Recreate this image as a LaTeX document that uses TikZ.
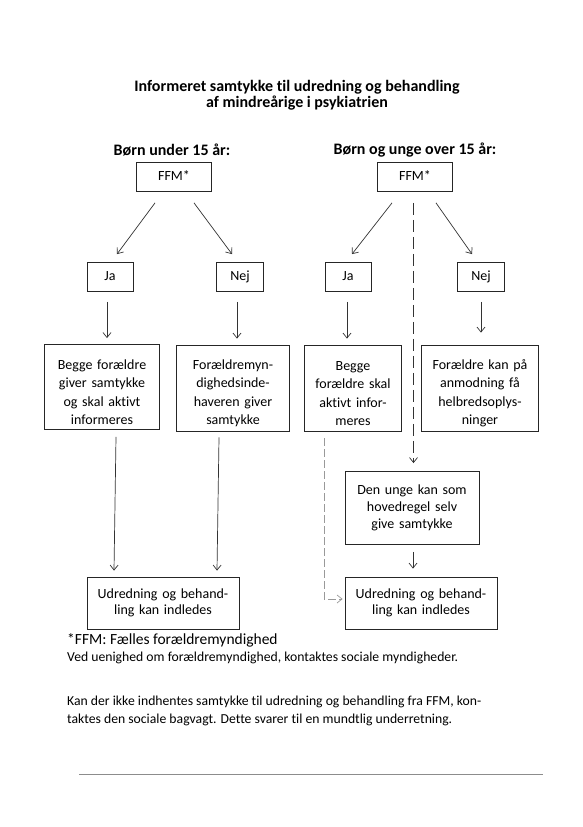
\documentclass[tikz,border=0pt]{standalone}
\usepackage{fontspec}
\setmainfont{Carlito}[Ligatures=NoCommon]
\usetikzlibrary{arrows.meta,calc}
\begin{document}
\begin{tikzpicture}[x=1pt,y=-1pt,
  box/.style={draw=black!85,line width=0.8pt,align=center,inner sep=2pt,
    font=\fontsize{14}{18.5}\selectfont},
  smallbox/.style={box,minimum height=29pt,text height=9.5pt,text depth=3pt},
  lower/.style={execute at begin node={\rule{0pt}{20pt}}},
  arr/.style={draw=black!80,line width=0.7pt,-{Straight Barb[length=5pt,width=8pt]}},
  dashline/.style={arr,dash pattern=on 12pt off 5pt},
  grayline/.style={draw=black!40,line width=0.7pt,dash pattern=on 8pt off 3pt,-{Straight Barb[length=5pt,width=8pt]}},
  heading/.style={font=\bfseries\fontsize{16}{16.5}\selectfont,align=center},
  note/.style={anchor=west,inner sep=0pt,font=\fontsize{13.7}{15}\selectfont}]
\useasboundingbox (0,0) rectangle (583,827);
\fill[white] (0,0) rectangle (583,827);

\node[heading] (title) at (297,95) {Informeret samtykke til udredning og behandling\\af mindreårige i psykiatrien};
\node[heading] (h1) at (172,150) {Børn under 15 år:};
\node[heading] (h2) at (415,150) {Børn og unge over 15 år:};

\node[smallbox,minimum width=75pt] (ffmL) at (174,177) {FFM*};
\node[smallbox,minimum width=75pt] (ffmR) at (415,177) {FFM*};

\node[smallbox,minimum width=46pt] (jaL) at (110,277) {Ja};
\node[smallbox,minimum width=47pt] (nejL) at (240,277) {Nej};
\node[smallbox,minimum width=46pt] (jaR) at (348,277) {Ja};
\node[smallbox,minimum width=47pt] (nejR) at (481,277) {Nej};

\node[box,lower,minimum width=115pt,minimum height=85pt,text width=110pt] (b1) at (102,387) {Begge forældre\\giver samtykke\\og skal aktivt\\informeres};
\node[box,lower,minimum width=113pt,minimum height=86pt,text width=108pt] (b2) at (233,388) {Forældremyn-\\dighedsinde-\\haveren giver\\samtykke};
\node[box,lower,minimum width=97pt,minimum height=86pt,text width=92pt] (b3) at (353,388) {Begge\\forældre skal\\aktivt infor-\\meres};
\node[box,lower,minimum width=117pt,minimum height=86pt,text width=112pt] (b4) at (480,388) {Forældre kan på\\anmodning få\\helbredsoplys-\\ninger};

\node[box,minimum width=134pt,minimum height=73pt,text width=129pt,font=\fontsize{14}{17}\selectfont] (den) at (412,508) {Den unge kan som\\hovedregel selv\\give samtykke};

\node[box,minimum width=152pt,minimum height=52pt,text width=147pt,font=\fontsize{14}{16.5}\selectfont] (udL) at (163,603) {Udredning og behand-\\ling kan indledes};
\node[box,minimum width=152pt,minimum height=52pt,text width=147pt,font=\fontsize{14}{16.5}\selectfont] (udR) at (421,603) {Udredning og behand-\\ling kan indledes};

% arrows from FFM
\draw[arr] ($(ffmL.south)+(-19,11)$) -- ($(jaL.north)+(7,-8)$);
\draw[arr] ($(ffmL.south)+(20,11)$) -- ($(nejL.north)+(-8,-8)$);
\draw[arr] ($(ffmR.south)+(-23,11)$) -- ($(jaR.north)+(4,-8)$);
\draw[arr] ($(ffmR.south)+(21,11)$) -- ($(nejR.north)+(-9,-8)$);
\draw[dashline] ($(den.north |- ffmR.south)+(1.5,11)$) -- ($(den.north)+(1.5,-8)$);

% down arrows
\draw[arr] ($(jaL.south)+(-3,10)$) -- ($(b1.north)+(5,-6)$);
\draw[arr] ($(nejL.south)+(-3,10)$) -- ($(b2.north)+(4,-6)$);
\draw[arr] ($(jaR.south)+(-1,10)$) -- ($(b3.north)+(-6,-6)$);
\draw[arr] ($(nejR.south)+(0,10)$) -- ($(b4.north)+(1,-12)$);

% long arrows
\draw[arr] ($(b1.south)+(14,7)$) -- ($(udL.north)+(-49,-6)$);
\draw[arr] ($(b2.south)+(-14,6)$) -- ($(udL.north)+(54,-6)$);
\draw[arr] ($(den.south)+(1,7)$) -- ($(udR.north)+(-8,-8)$);
\draw[grayline] ($(b3.south)+(-29,7)$) |- ($(udR.west)+(-2,-4)$);

% notes
\node[note,font=\fontsize{15.5}{16}\selectfont] (n1) at (67,640) {*FFM: Fælles forældremyndighed};
\node[note] (n2) at (67,658) {Ved uenighed om forældremyndighed, kontaktes sociale myndigheder.};
\node[note] (n3) at (67,702) {Kan der ikke indhentes samtykke til udredning og behandling fra FFM, kon-};
\node[note] (n4) at (67,720) {taktes den sociale bagvagt. Dette svarer til en mundtlig underretning.};

\coordinate (r1) at (79,774);
\coordinate (r2) at (543,774);
\draw[black!45,line width=1pt] (r1) -- (r2);
\end{tikzpicture}
\end{document}
